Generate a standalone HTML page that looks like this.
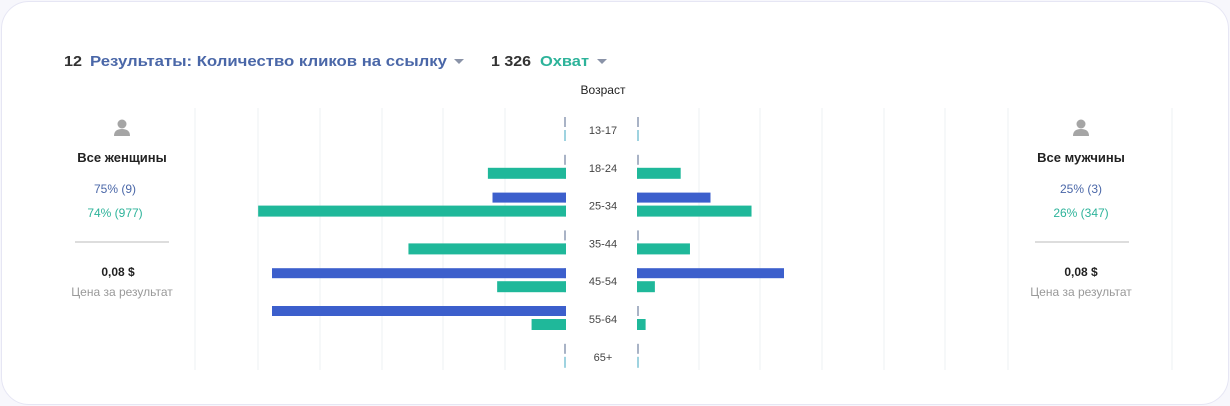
<!DOCTYPE html>
<html><head><meta charset="utf-8">
<style>
body{margin:0;width:1230px;height:406px;background:#f7f7fc;font-family:"Liberation Sans",sans-serif;overflow:hidden}
#card{position:absolute;left:1px;top:1px;width:1226px;height:402px;background:#fff;border:1px solid #e6e6f4;border-radius:28px}
</style></head><body>
<div id="card"></div>
<svg id="chart" width="1230" height="406" style="position:absolute;left:0;top:0" font-family="Liberation Sans, sans-serif">
<g font-size="15" font-weight="bold">
<text x="64" y="66" fill="#333" textLength="18" lengthAdjust="spacingAndGlyphs">12</text>
<text x="90" y="66" fill="#4a67a8" textLength="357" lengthAdjust="spacingAndGlyphs">Результаты: Количество кликов на ссылку</text>
<path d="M454 59 L464 59 L459 64 Z" fill="#8a93a8"/>
<text x="491" y="66" fill="#333" textLength="40" lengthAdjust="spacingAndGlyphs">1 326</text>
<text x="540" y="66" fill="#2db39a" textLength="49" lengthAdjust="spacingAndGlyphs">Охват</text>
<path d="M597 59 L607 59 L602 64 Z" fill="#8a93a8"/>
</g>
<text x="603" y="94" text-anchor="middle" font-size="12" fill="#222">Возраст</text>
<g id="grid"></g>
<g id="bars"></g>
<g text-anchor="middle">
<g fill="#a5a5a5"><circle cx="122" cy="124" r="4.5"/><path d="M114 136 Q114 129 122 129 Q130 129 130 136 Z"/></g>
<text x="122" y="162" font-size="13" font-weight="bold" fill="#222">Все женщины</text>
<text x="115" y="193" font-size="12" fill="#4a67a8">75% (9)</text>
<text x="115" y="217" font-size="12" fill="#2db39a">74% (977)</text>
<rect x="75" y="241" width="94" height="2" fill="#ddd"/>
<text x="118" y="276" font-size="12" font-weight="bold" fill="#222">0,08 $</text>
<text x="122" y="296" font-size="12" fill="#999">Цена за результат</text>
</g>
<g text-anchor="middle">
<g fill="#a5a5a5"><circle cx="1081" cy="124" r="4.5"/><path d="M1073 136 Q1073 129 1081 129 Q1089 129 1089 136 Z"/></g>
<text x="1081" y="162" font-size="13" font-weight="bold" fill="#222">Все мужчины</text>
<text x="1081" y="193" font-size="12" fill="#4a67a8">25% (3)</text>
<text x="1081" y="217" font-size="12" fill="#2db39a">26% (347)</text>
<rect x="1035" y="241" width="94" height="2" fill="#ddd"/>
<text x="1081" y="276" font-size="12" font-weight="bold" fill="#222">0,08 $</text>
<text x="1081" y="296" font-size="12" fill="#999">Цена за результат</text>
</g>
</svg>
<script>
const categories=["13-17","18-24","25-34","35-44","45-54","55-64","65+"];
const womenResults=[0,0,1,0,4,4,0];
const menResults=[0,0,1,0,2,0,0];
const womenReach=[0,118,465,238,104,52,0];
const menReach=[0,66,173,80,27,13,0];
const NS="http://www.w3.org/2000/svg";
const leftZero=566,rightZero=637;
const resPx=73.5, reachPx=0.662;
function rowY(i){return 130+i*37.8;}
function resLen(v){return v*resPx;}
function reachLen(v){return v*reachPx;}
function mk(tag,attrs,parent){const e=document.createElementNS(NS,tag);for(const k in attrs)e.setAttribute(k,attrs[k]);parent.appendChild(e);return e;}
const grid=document.getElementById('grid'),bars=document.getElementById('bars');
[195,258,320,382,443,505,699,760,822,884,945,1008,1172].forEach(x=>{
 const l=mk('line',{x1:x,x2:x,y1:108,y2:370,stroke:'#eef0f3','stroke-width':1},grid);
 
 
});
categories.forEach((c,i)=>{
 const cy=rowY(i);
 const t=mk('text',{x:603,y:cy+4,'text-anchor':'middle','font-size':11,fill:'#444'},bars);t.textContent=c;
 
 
 [leftZero-2,rightZero].forEach(x=>{
  const a=mk('rect',{x:x,y:cy-13,width:2,height:10,fill:'#a9b3c6'},bars);
  
  
  const b=mk('rect',{x:x,y:cy,width:2,height:11,fill:'#9fd3e0'},bars);
  
  
 });
 const wr=resLen(womenResults[i]);
 if(wr>0){const r=mk('rect',{x:leftZero-wr,y:cy-13,width:wr,height:10,fill:'#3c5fcc'},bars);
  
  }
 const mr=resLen(menResults[i]);
 if(mr>0){const r=mk('rect',{x:rightZero,y:cy-13,width:mr,height:10,fill:'#3c5fcc'},bars);
  
  }
 const wq=reachLen(womenReach[i]);
 if(wq>0){const r=mk('rect',{x:leftZero-wq,y:cy,width:wq,height:11,fill:'#1fb89a'},bars);
  
  }
 const mq=reachLen(menReach[i]);
 if(mq>0){const r=mk('rect',{x:rightZero,y:cy,width:mq,height:11,fill:'#1fb89a'},bars);
  
  }
});
</script>
</body></html>
